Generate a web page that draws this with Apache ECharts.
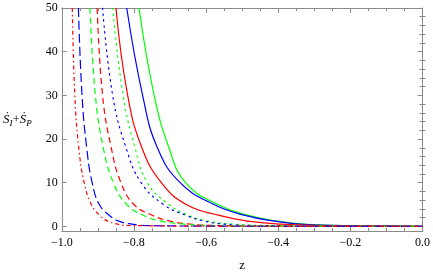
<!DOCTYPE html>
<html>
<head>
<meta charset="utf-8">
<script src="https://cdn.jsdelivr.net/npm/echarts@6/dist/echarts.min.js"></script>
<style>
html,body{margin:0;padding:0;background:#fff;}
#c{width:433px;height:277px;}
</style>
</head>
<body>
<div id="c"></div>
<script>
// ---- data ----
const X_TICKS_INTERVAL = 0.2;
const Y_MAJOR = [0, 10, 20, 30, 40, 50];
const Y_MINOR = [2, 4, 6, 8, 12, 14, 16, 18, 22, 24, 26, 28, 32, 34, 36, 38, 42, 44, 46, 48];

// solid curves
const gSolidX = [-0.786, -0.744, -0.703, -0.657, -0.568, -0.482, -0.405, -0.33, -0.22, -0.10, 0];
const gSolidY = [50, 30, 18, 10, 5, 2.5, 1.2, 0.5, 0.2, 0.05, 0.03];

const bSolidX = [-0.820, -0.776, -0.735, -0.672, -0.578, -0.492, -0.410, -0.33, -0.22, -0.10, 0];
const bSolidY = [50, 30, 18, 10, 5, 2.5, 1.2, 0.45, 0.17, 0.04, 0.03];

const rSolidX = [-0.850, -0.8175, -0.778, -0.724, -0.655, -0.563, -0.485, -0.39, -0.28, -0.12, 0];
const rSolidY = [50, 30, 18, 10, 5, 2.5, 1.2, 0.5, 0.2, 0.04, 0.02];

// dotted curves
const gDotX = [-0.859, -0.830, -0.797, -0.763, -0.703, -0.648, -0.595, -0.52, -0.43, -0.2, 0];
const gDotY = [50, 30, 18, 10, 5, 2.5, 1.2, 0.5, 0.2, 0.03, 0.02];

const bDotX = [-0.887, -0.859, -0.822, -0.780, -0.718, -0.655, -0.605, -0.55, -0.47, -0.2, 0];
const bDotY = [50, 30, 18, 10, 5, 2.5, 1.2, 0.5, 0.2, 0.03, 0.02];

// dashed curves
const rDashX = [-0.902, -0.887, -0.863, -0.836, -0.800, -0.748, -0.700, -0.643, -0.575, -0.3, 0];
const rDashY = [50, 30, 18, 10, 5, 2.5, 1.2, 0.5, 0.2, 0.03, 0.02];

const gDashX = [-0.922, -0.907, -0.885, -0.857, -0.820, -0.773, -0.725, -0.66, -0.59, -0.3, 0];
const gDashY = [50, 30, 18, 10, 5, 2.5, 1.2, 0.5, 0.2, 0.03, 0.02];

// leftmost pair
const bLongX = [-0.954, -0.944, -0.931, -0.916, -0.896, -0.868, -0.842, -0.805, -0.772, -0.5, 0];
const bLongY = [50, 30, 18, 10, 5, 2.5, 1.2, 0.5, 0.2, 0.03, 0.01];

const rDotDashX = [-0.971, -0.964, -0.953, -0.938, -0.918, -0.895, -0.872, -0.845, -0.815, -0.5, 0];
const rDotDashY = [50, 30, 18, 10, 5, 2.5, 1.2, 0.5, 0.2, 0.03, 0.01];

// ---- chart ----
const RED = '#ff0000', GREEN = '#00ff00', BLUE = '#0000ff';
const FRAME = '#8a8a8a';
const FONT = "'Liberation Serif', 'DejaVu Serif', serif";
const Y_MIN = -1.06, Y_MAX = 50;

function pairs(xs, ys) { return xs.map((x, i) => [x, ys[i]]); }
function line(xs, ys, color, dash, cap) {
  return {
    type: 'line', data: pairs(xs, ys), xAxisIndex: 0, yAxisIndex: 0,
    showSymbol: false, symbol: 'none', smooth: 0.45,
    clip: true, silent: true,
    lineStyle: { color: color, width: 1.2, type: dash, cap: cap || 'butt' }
  };
}
function xLabel(v) {
  const s = Math.abs(v).toFixed(1);
  return (v < -1e-9 ? '\u2212' : '') + s;
}
const xCommon = {
  type: 'value', min: -1, max: 0, interval: X_TICKS_INTERVAL,
  axisLine: { show: true, onZero: false, lineStyle: { color: FRAME, width: 1 } },
  axisTick: { show: true, inside: true, length: 5, lineStyle: { color: FRAME } },
  minorTick: { show: true, splitNumber: 4, length: 3, lineStyle: { color: FRAME } },
  splitLine: { show: false }, minorSplitLine: { show: false }
};
function yAxis(pos, values, len, labels, extra) {
  return Object.assign({
    type: 'value', position: pos, min: Y_MIN, max: Y_MAX,
    axisLine: { show: true, onZero: false, lineStyle: { color: FRAME, width: 1 } },
    axisTick: { show: true, inside: true, length: len, customValues: values, lineStyle: { color: FRAME } },
    axisLabel: labels ? { show: true, customValues: values, margin: 4, color: '#000', fontFamily: FONT, fontSize: 12 } : { show: false },
    splitLine: { show: false }
  }, extra || {});
}

const chart = echarts.init(document.getElementById('c'), null, { renderer: 'canvas' });
chart.setOption({
  animation: false,
  backgroundColor: '#fff',
  grid: { left: 59.3, right: 7.7, top: 8, bottom: 43, containLabel: false },
  xAxis: [
    Object.assign({}, xCommon, {
      position: 'bottom',
      name: 'z', nameLocation: 'middle', nameGap: 28,
      nameTextStyle: { color: '#000', fontFamily: FONT, fontSize: 13 },
      axisLabel: { show: true, margin: 6, color: '#000', fontFamily: FONT, fontSize: 12, formatter: xLabel }
    }),
    Object.assign({}, xCommon, { position: 'top', axisLabel: { show: false } })
  ],
  yAxis: [
    yAxis('left', Y_MAJOR, 5, true, {
      name: '{a|\u1E60}{b|I}{c|+}{a|\u1E60}{b|P}',
      nameLocation: 'middle', nameRotate: 0, nameGap: 30,
      nameTextStyle: {
        color: '#000', fontFamily: FONT,
        rich: {
          a: { fontFamily: FONT, fontStyle: 'italic', fontSize: 13, color: '#000', lineHeight: 18 },
          b: { fontFamily: FONT, fontStyle: 'italic', fontSize: 9, color: '#000', lineHeight: 18, padding: [8, 0, 0, 0] },
          c: { fontFamily: FONT, fontSize: 13, color: '#000', lineHeight: 18 }
        }
      }
    }),
    yAxis('left', Y_MINOR, 3, false, { axisLine: { show: false } }),
    yAxis('right', Y_MAJOR, 5, false),
    yAxis('right', Y_MINOR, 3, false, { axisLine: { show: false } })
  ],
  series: [
    line(gSolidX, gSolidY, GREEN, 'solid'),
    line(bSolidX, bSolidY, BLUE, 'solid'),
    line(rSolidX, rSolidY, RED, 'solid'),
    line(gDotX, gDotY, GREEN, [1.5, 4.5], 'round'),
    line(bDotX, bDotY, BLUE, [1.5, 4.5], 'round'),
    line(rDashX, rDashY, RED, [6, 4]),
    line(gDashX, gDashY, GREEN, [6, 4]),
    line(bLongX, bLongY, BLUE, [9, 4]),
    line(rDotDashX, rDotDashY, RED, [4, 3, 1.5, 3])
  ]
});
</script>
</body>
</html>
